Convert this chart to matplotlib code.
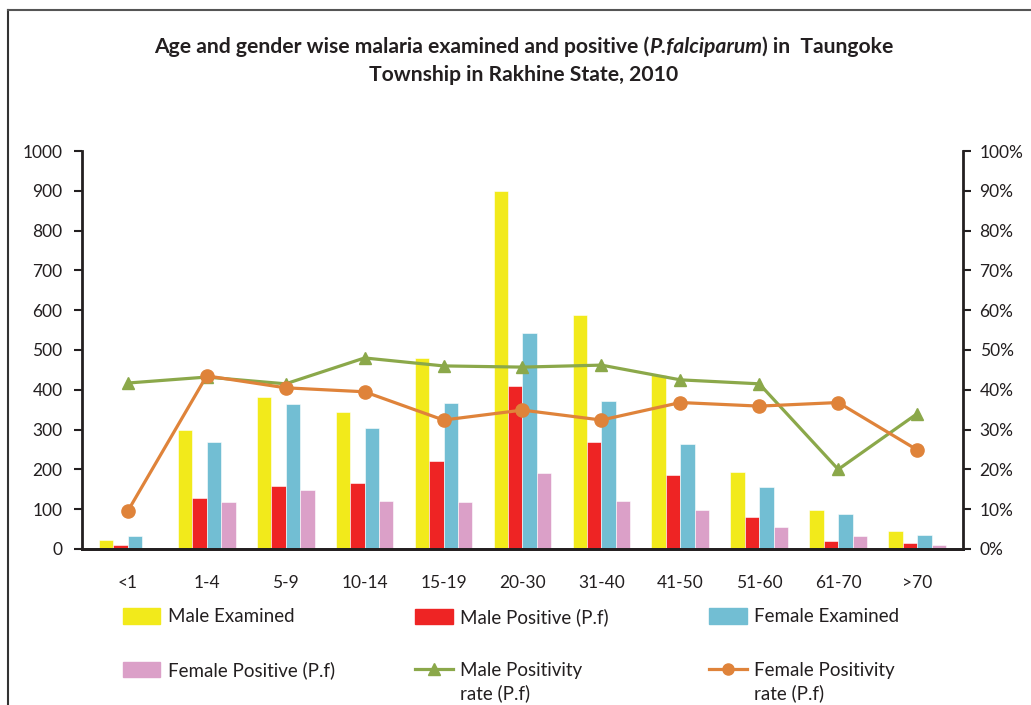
import numpy as np
import matplotlib
matplotlib.use("Agg")
import matplotlib.pyplot as plt
from matplotlib.lines import Line2D
from matplotlib.patches import Patch
from matplotlib.ticker import PercentFormatter

plt.rcParams['font.family'] = ['Lato', 'DejaVu Sans']

age_groups = ['<1', '1-4', '5-9', '10-14', '15-19', '20-30', '31-40', '41-50', '51-60', '61-70', '>70']
male_examined = [23, 298, 382, 344, 480, 900, 587, 437, 193, 99, 44]
male_positive = [10, 128, 158, 165, 220, 410, 270, 186, 80, 20, 15]
female_examined = [32, 270, 365, 305, 368, 543, 372, 263, 156, 87, 36]
female_positive = [3, 117, 148, 120, 118, 190, 120, 97, 55, 32, 9]
male_rate = [41.7, 43.2, 41.5, 48.0, 46.0, 45.7, 46.2, 42.5, 41.5, 20.0, 34.0]
female_rate = [9.5, 43.5, 40.5, 39.5, 32.4, 34.9, 32.4, 36.8, 35.9, 36.8, 24.9]

c_yellow = '#F2EA1B'
c_red = '#EE2424'
c_blue = '#72BED3'
c_pink = '#DBA0C8'
c_green = '#8BA84A'
c_orange = '#DF833A'
c_text = '#231F20'

fig = plt.figure(figsize=(10.31, 7.05), dpi=100)
ax = fig.add_axes([0.0795, 0.2213, 0.8545, 0.5645])
ax2 = ax.twinx()

x = np.arange(len(age_groups))
w = 0.183
series = [(male_examined, c_yellow), (male_positive, c_red),
          (female_examined, c_blue), (female_positive, c_pink)]
for k, (vals, col) in enumerate(series):
    ax.bar(x + (k - 1.5) * w, vals, w, color=col, edgecolor='white', linewidth=0.4)

ax2.plot(x, male_rate, color=c_green, lw=2.3, marker='^', ms=9, zorder=3)
ax2.plot(x, female_rate, color=c_orange, lw=2.3, marker='o', ms=9.5, zorder=4)

ax.set_xlim(-0.58, len(age_groups) - 0.42)
ax.set_ylim(0, 1000)
ax.set_yticks(range(0, 1001, 100))
ax2.set_ylim(0, 100)
ax2.set_yticks(range(0, 101, 10))
ax2.yaxis.set_major_formatter(PercentFormatter(decimals=0))
ax.set_xticks(x)
ax.set_xticklabels(age_groups)

for a in (ax, ax2):
    a.spines['top'].set_visible(False)
    for s in a.spines.values():
        s.set_linewidth(2)
        s.set_color(c_text)
    a.tick_params(labelsize=12.5, colors=c_text, width=1.5, length=6)
ax.spines['right'].set_visible(False)
ax2.spines['left'].set_visible(False)
ax.tick_params(axis='x', length=0, pad=19)
ax.tick_params(axis='y', pad=8)
ax2.tick_params(axis='y', pad=6)

# title: first line assembled from pieces so the species name can be italic
title_kw = dict(fontsize=15.2, fontweight='bold', color=c_text, va='baseline')
pieces = [('Age and gender wise malaria examined and positive (', 'normal'),
          ('P.falciparum', 'italic'),
          (') in  Taungoke', 'normal')]
texts = [fig.text(0, 0.925, s, style=st, ha='left', **title_kw) for s, st in pieces]
fig.canvas.draw()
r = fig.canvas.get_renderer()
widths = [t.get_window_extent(r).width / fig.bbox.width for t in texts]
x0 = 0.508 - sum(widths) / 2
for t, wd in zip(texts, widths):
    t.set_x(x0)
    x0 += wd
fig.text(0.508, 0.885, 'Township in Rakhine State, 2010', ha='center', **title_kw)

# legend entries laid out in a 3 x 2 grid
entries = [
    (Patch(color=c_yellow), 'Male Examined', None),
    (Patch(color=c_red), 'Male Positive (P.f)', None),
    (Patch(color=c_blue), 'Female Examined', None),
    (Patch(color=c_pink), 'Female Positive (P.f)', None),
    (Line2D([], [], color=c_green, lw=2.3, marker='^', ms=8), 'Male Positivity', 'rate (P.f)'),
    (Line2D([], [], color=c_orange, lw=2.3, marker='o', ms=8), 'Female Positivity', 'rate (P.f)'),
]
col_x = [0.119, 0.403, 0.688]
row_y = [0.125, 0.0496]
legends = []
for i, (h, lab, extra) in enumerate(entries):
    lg = fig.legend([h], [lab], loc='center left',
                    bbox_to_anchor=(col_x[i % 3], row_y[i // 3]),
                    frameon=False, fontsize=13.5, handlelength=2.0, handleheight=0.9,
                    handletextpad=0.4, borderpad=0, borderaxespad=0, labelcolor=c_text)
    legends.append((lg, extra))

fig.canvas.draw()
inv = fig.transFigure.inverted()
for lg, extra in legends:
    if extra:
        bb = lg.get_texts()[0].get_window_extent()
        xt = inv.transform((bb.x0, bb.y0))[0]
        fig.text(xt, 0.017, extra, ha='left', va='center', fontsize=13.5, color=c_text)

fig.add_artist(Line2D([0.008, 0.008], [0, 0.986], color='#333333', lw=1.5))
fig.add_artist(Line2D([0.008, 1.0], [0.986, 0.986], color='#555555', lw=1.5))

fig.savefig('out.png', dpi=100)
